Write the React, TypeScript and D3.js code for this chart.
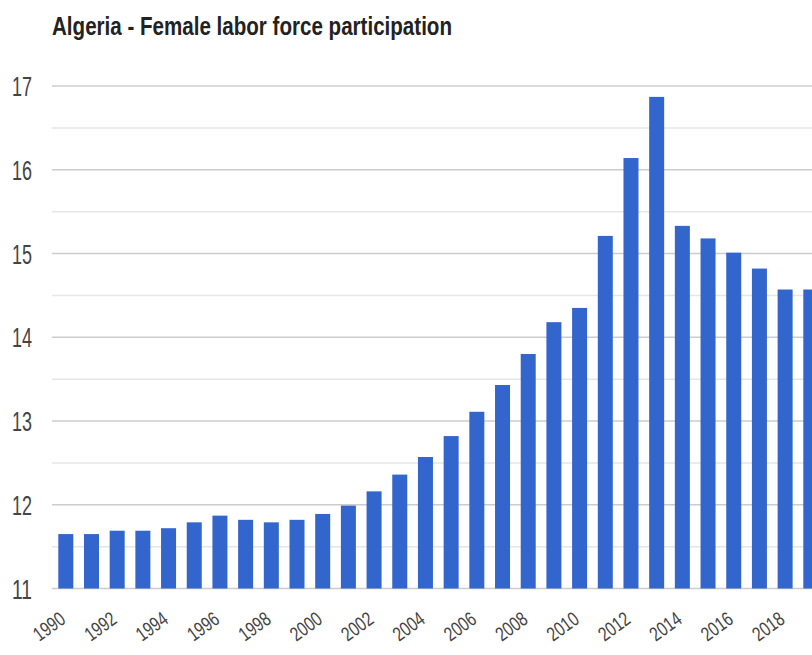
import React from "react";
import * as d3 from "d3";

// Female labor force participation, Algeria (% of female population 15+)
const years: string[] = [
  "1990", "1991", "1992", "1993", "1994", "1995", "1996", "1997", "1998", "1999",
  "2000", "2001", "2002", "2003", "2004", "2005", "2006", "2007", "2008", "2009",
  "2010", "2011", "2012", "2013", "2014", "2015", "2016", "2017", "2018", "2019",
];
const participation: number[] = [
  11.65, 11.65, 11.69, 11.69, 11.72, 11.79, 11.87, 11.82, 11.79, 11.82,
  11.89, 11.99, 12.16, 12.36, 12.57, 12.82, 13.11, 13.43, 13.80, 14.18,
  14.35, 15.21, 16.14, 16.87, 15.33, 15.18, 15.01, 14.82, 14.57, 14.57,
];
const yTicks: number[] = [11, 12, 13, 14, 15, 16, 17];
const yMinorTicks: number[] = [11.5, 12.5, 13.5, 14.5, 15.5, 16.5];
const xTickLabels: string[] = [
  "1990", "1992", "1994", "1996", "1998", "2000", "2002",
  "2004", "2006", "2008", "2010", "2012", "2014", "2016", "2018",
];
const title = "Algeria - Female labor force participation";

const W = 812;
const H = 655;
const FONT = "'Liberation Sans', Arial, sans-serif";

export default function App() {
  const plotLeft = 52;
  const x = d3
    .scaleBand<string>()
    .domain(years)
    .range([plotLeft, 824.6])
    .paddingInner(0.416)
    .paddingOuter(0.245);
  const y = d3.scaleLinear().domain([11, 17]).range([588.5, 86]);

  return (
    <svg
      width={W}
      height={H}
      style={{ position: "absolute", left: 0, top: 0, display: "block", background: "#fff" }}
    >
      <rect x={0} y={0} width={W} height={H} fill="#fff" />
      <text
        x={plotLeft}
        y={35}
        fontFamily={FONT}
        fontWeight="bold"
        fontSize={25}
        fill="#222"
        textLength={400}
        lengthAdjust="spacingAndGlyphs"
      >
        {title}
      </text>

      {yMinorTicks.map((t) => (
        <line key={"m" + t} x1={plotLeft} x2={W} y1={y(t)} y2={y(t)} stroke="#e6e6e6" strokeWidth={1.5} />
      ))}
      {yTicks.map((t) => (
        <g key={"g" + t}>
          <line x1={plotLeft} x2={W} y1={y(t)} y2={y(t)} stroke="#cccccc" strokeWidth={1.5} />
          <text
            x={32}
            y={y(t) + 10}
            textAnchor="end"
            fontFamily={FONT}
            fontSize={27}
            fill="#444"
            textLength={20}
            lengthAdjust="spacingAndGlyphs"
          >
            {t}
          </text>
        </g>
      ))}

      {years.map((yr, i) => (
        <rect
          key={yr}
          x={x(yr)}
          y={y(participation[i])}
          width={x.bandwidth()}
          height={y(11) - y(participation[i])}
          fill="#3366cc"
        />
      ))}

      {xTickLabels.map((lbl) => {
        const cx = (x(lbl) as number) + x.bandwidth() / 2 + 1;
        const ty = 622;
        return (
          <text
            key={"x" + lbl}
            x={cx}
            y={ty}
            textAnchor="end"
            transform={`rotate(-36, ${cx}, ${ty})`}
            fontFamily={FONT}
            fontSize={20}
            fill="#444"
            textLength={34}
            lengthAdjust="spacingAndGlyphs"
          >
            {lbl}
          </text>
        );
      })}
    </svg>
  );
}
